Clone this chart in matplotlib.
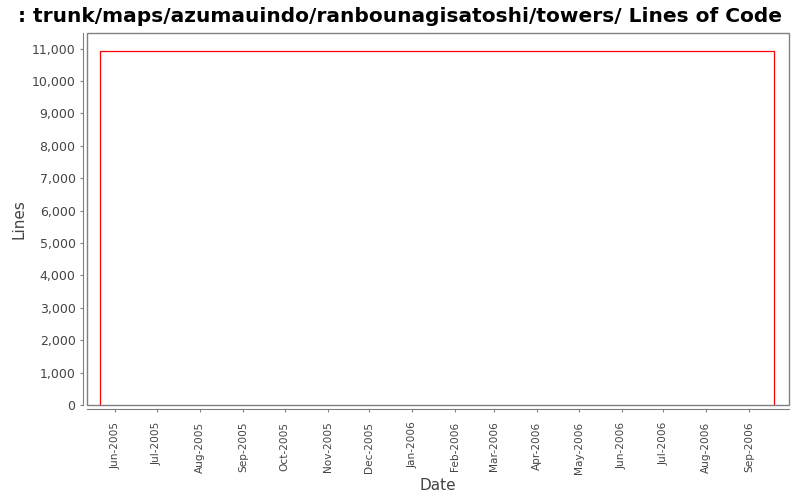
import matplotlib
matplotlib.use("Agg")
from matplotlib import pyplot as plt
import matplotlib.dates as mdates
from matplotlib.patches import Rectangle
from matplotlib.ticker import FuncFormatter, MultipleLocator
import numpy as np
import datetime as dt

title = ": trunk/maps/azumauindo/ranbounagisatoshi/towers/ Lines of Code"

# step data: lines of code over time
dates = [dt.datetime(2005, 5, 21), dt.datetime(2005, 5, 21),
         dt.datetime(2006, 9, 19), dt.datetime(2006, 9, 19)]
lines = [0, 10910, 10910, 0]

x_start = dt.datetime(2005, 5, 11, 10)
x_end = dt.datetime(2006, 9, 29, 7)
y_max = 11470

fig = plt.figure(figsize=(8, 5), dpi=100)
ax = fig.add_axes([86.7/800, 1 - 405/500, (788.5-86.7)/800, (405-33.3)/500])

ax.plot(dates, lines, color="#ff0000", lw=0.9)

ax.set_xlim(x_start, x_end)
ax.set_ylim(0, y_max)

grey = "#808080"
for s in ["top", "right"]:
    ax.spines[s].set_visible(False)
for s in ["left", "bottom"]:
    ax.spines[s].set_position(("outward", 3))
    ax.spines[s].set_color(grey)
ax.add_patch(Rectangle((0, 0), 1, 1, transform=ax.transAxes, fill=False,
                       edgecolor=grey, lw=1, clip_on=False))

ax.yaxis.set_major_locator(MultipleLocator(1000))
ax.yaxis.set_major_formatter(FuncFormatter(lambda v, p: f"{int(v):,}"))
ax.xaxis.set_major_locator(mdates.MonthLocator())
ax.xaxis.set_major_formatter(mdates.DateFormatter("%b-%Y"))
plt.setp(ax.get_xticklabels(), rotation=90)

ax.tick_params(axis="both", length=2, color=grey, labelcolor="#444444")
ax.tick_params(axis="y", labelsize=9, pad=3)
ax.tick_params(axis="x", labelsize=7.6, pad=7)

ax.set_xlabel("Date", fontsize=11, color="#444444", labelpad=3)
ax.set_ylabel("Lines", fontsize=11, color="#444444", labelpad=4)
fig.suptitle(title, fontsize=14.5, fontweight="bold", x=0.5, y=0.985)

fig.savefig("out.png", dpi=100)
